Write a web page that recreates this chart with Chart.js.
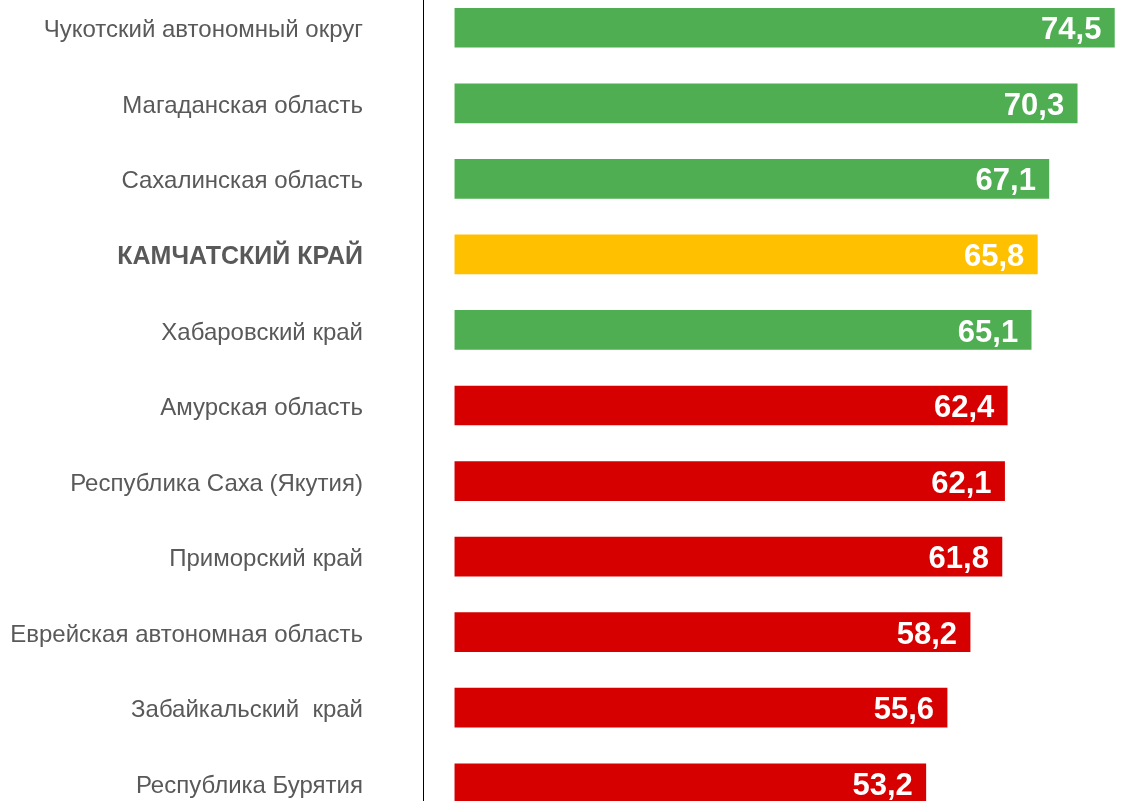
<!DOCTYPE html>
<html>
<head>
<meta charset="utf-8">
<script src="https://cdn.jsdelivr.net/npm/chart.js@4/dist/chart.umd.min.js"></script>
<style>
  html, body { margin: 0; padding: 0; background: #ffffff; overflow: hidden; width: 1125px; height: 801px; }
  #c { position: absolute; left: 0; top: -10px; }
</style>
</head>
<body>
<canvas id="c" width="1125" height="831"></canvas>
<script>
const categories = [
  "Чукотский автономный округ",
  "Магаданская область",
  "Сахалинская область",
  "КАМЧАТСКИЙ КРАЙ",
  "Хабаровский край",
  "Амурская область",
  "Республика Саха (Якутия)",
  "Приморский край",
  "Еврейская автономная область",
  "Забайкальский  край",
  "Республика Бурятия"
];
const values = [74.5, 70.3, 67.1, 65.8, 65.1, 62.4, 62.1, 61.8, 58.2, 55.6, 53.2];
const barColors = ["#4FAE51", "#4FAE51", "#4FAE51", "#FFC000", "#4FAE51", "#D60000", "#D60000", "#D60000", "#D60000", "#D60000", "#D60000"];
const highlightIndex = 3;

const FONT = "'Liberation Sans', Arial, sans-serif";

const valueLabels = {
  id: 'valueLabels',
  afterDatasetsDraw(chart) {
    const ctx = chart.ctx;
    const meta = chart.getDatasetMeta(0);
    ctx.save();
    ctx.fillStyle = '#ffffff';
    ctx.font = 'bold 31px ' + FONT;
    ctx.textAlign = 'right';
    ctx.textBaseline = 'middle';
    meta.data.forEach((bar, i) => {
      const txt = values[i].toFixed(1).replace('.', ',');
      ctx.fillText(txt, bar.x - 13, bar.y + 3);
    });
    ctx.restore();
  }
};

new Chart(document.getElementById('c'), {
  type: 'bar',
  data: {
    labels: categories,
    datasets: [{
      data: values,
      backgroundColor: barColors,
      borderWidth: 0,
      barThickness: 39
    }]
  },
  options: {
    indexAxis: 'y',
    responsive: false,
    maintainAspectRatio: false,
    devicePixelRatio: 1,
    animation: false,
    layout: { padding: 0 },
    plugins: { legend: { display: false }, tooltip: { enabled: false } },
    scales: {
      x: {
        min: -3.6,
        max: 75.7,
        display: false,
        grid: { display: false }
      },
      y: {
        afterFit(scale) {
          scale.width = 423;
          scale.paddingTop = 0;
          scale.paddingBottom = 0;
        },
        grid: { display: false, drawTicks: false },
        border: { display: true, color: '#000000', width: 1 },
        ticks: {
          padding: 60,
          labelOffset: 3,
          color: '#595959',
          font: (ctx) => ctx.index === highlightIndex
            ? { family: FONT, size: 25, weight: 'bold' }
            : { family: FONT, size: 24, weight: 'normal' }
        }
      }
    }
  },
  plugins: [valueLabels]
});
</script>
</body>
</html>
